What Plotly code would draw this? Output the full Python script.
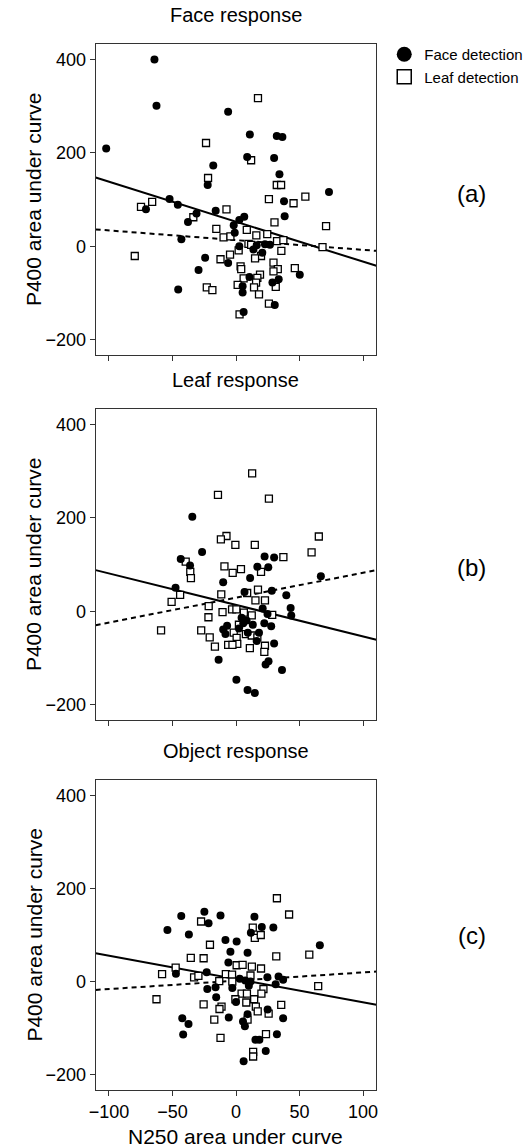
import plotly.graph_objects as go

# ---------------- data ----------------
# Panel (a) Face response
a_face_x = [-64.2, -62.6, -102.2, -6.2, 10.9, 32.1, 36.5, 8.8, 30.0, -17.9, 34.2, -22.3, 73.2, 37.8,
            -52.3, -45.8, -70.9, -16.0, -31.1, 38.3, -37.8, 6.5, 2.6, -1.8, -1.0, -43.0, 2.6, 16.3,
            22.8, 26.7, 13.7, 20.7, -24.3, -6.2, -29.5, 50.2, 10.6, 33.6, 28.7, -45.5, 5.2, 5.2,
            30.5, 6.0]
a_face_y = [400, 301, 209, 288, 239, 236, 234, 191, 189, 173, 154, 131, 116, 96,
            101, 89, 79, 76, 70, 64, 52, 63, 56, 45, 29, 15, 0, 2,
            4, 3, -7, -14, -25, -36, -51, -61, -66, -71, -78, -93, -86, -99,
            -126, -141]
a_leaf_x = [17.3, -23.6, 11.9, -22.0, 32.1, 35.5, 54.6, 25.9, 45.3, -74.8, -66.0, -7.5, -33.6, 30.3,
            70.9, -15.5, 8.5, 16.0, 24.6, -9.8, -4.4, 32.3, 37.3, 9.8, 11.9, 68.1, 35.7, 2.1,
            -79.7, -4.7, -12.2, 19.7, 15.0, 29.5, 3.6, 4.1, 32.9, 29.5, 46.3, 18.9, 6.0, 16.8,
            15.8, 1.3, 14.2, -23.0, -18.6, 31.3, 18.1, 25.9, 2.8]
a_leaf_y = [317, 221, 184, 146, 131, 131, 106, 101, 92, 84, 95, 79, 62, 51,
            43, 37, 35, 23, 26, 19, 21, 11, 13, 5, 3, -2, -10, -9,
            -21, -18, -28, -21, -26, -35, -43, -49, -49, -54, -47, -61, -69, -68,
            -78, -83, -88, -88, -94, -87, -103, -123, -146]

# Panel (b) Leaf response
b_face_x = [-34.4, -26.7, -43.5, -36.2, 22.5, 30.0, 16.8, 25.4, 11.1, -10.1, 66.8, -47.6, 6.7, 28.2,
            39.6, 21.0, 43.0, 43.5, 24.8, 4.4, 8.3, -7.0, 13.2, 22.3, 27.7, 2.3, -10.1, -8.3,
            9.3, 18.1, 16.3, 30.0, -13.7, 25.6, 23.3, 36.2, 0.3, 9.1, 14.8, 5.7]
b_face_y = [202, 127, 112, 98, 117, 115, 95, 94, 71, 62, 75, 50, 41, 44,
            34, 6, 7, -9, -6, -14, -20, -31, -29, -26, -32, -37, -39, -49,
            -46, -46, -64, -69, -104, -107, -114, -126, -147, -169, -175, -26]
b_leaf_x = [12.7, -14.2, 25.9, -7.5, -11.9, 65.2, -0.5, 14.8, 59.5, 37.3, -39.6, -9.1, 3.9, -36.0,
            -35.5, -2.6, 19.7, 17.3, 8.8, -11.6, -44.0, -50.7, 15.3, 22.8, -21.5, -3.1, 0.3, -10.6,
            6.2, 12.4, 28.5, -21.7, 2.3, -59.0, -27.4, -1.8, 7.8, 12.4, 16.8, -20.7, 0.5, 1.0,
            -6.2, -2.8, -16.6, 10.9, 22.8, 22.3]
b_leaf_y = [295, 249, 241, 161, 154, 160, 142, 142, 126, 116, 106, 96, 90, 84,
            71, 82, 84, 46, 39, 36, 35, 20, 23, 23, 11, 4, 4, -2,
            -3, -9, -8, -13, -29, -41, -41, -46, -49, -52, -56, -56, -57, -70,
            -72, -72, -76, -79, -74, -87]

# Panel (c) Object response
c_face_x = [-24.9, -43.1, -12.2, -21.6, 14.5, -54.0, 29.4, 20.3, 11.7, -37.1, -8.3, 0.5, 66.0, -4.4,
            9.1, -6.0, -47.3, -23.1, 24.7, 33.5, 37.1, 2.9, 7.3, 11.4, 10.1, -16.1, -2.9, -22.6,
            31.2, -15.6, 0.0, -42.3, -37.4, -5.7, 9.1, 24.9, 37.1, 5.5, 7.0, -41.6, 32.2, 15.3,
            18.4, 23.4, 6.0]
c_face_y = [150, 141, 142, 125, 139, 111, 116, 117, 105, 101, 89, 86, 78, 64,
            62, 41, 17, 20, 9, 11, 4, 6, 2, 0, -9, -12, -14, -16,
            -6, -34, -44, -79, -91, -77, -70, -60, -79, -86, -96, -114, -113, -125,
            -125, -149, -171]
c_leaf_x = [32.2, 41.8, -27.5, 13.2, 14.8, 19.5, -20.5, -35.6, -25.5, 31.7, 57.7, 0.5, 5.2, 12.5,
            19.7, -47.5, -58.2, -33.0, -29.6, -8.0, -3.1, -13.2, -2.9, 11.4, 64.7, 21.6, 4.4, 8.6,
            20.0, -62.6, -0.5, 14.3, 8.1, -25.5, -11.4, -13.0, 35.6, 15.6, 17.1, 25.7, -17.1, 9.1,
            23.6, -12.2, 13.5, 13.5]
c_leaf_y = [179, 144, 129, 116, 94, 100, 79, 51, 50, 54, 58, 35, 36, 32,
            28, 30, 16, 9, 12, 16, 15, 1, 0, 13, -10, -16, -26, -26,
            -26, -38, -38, -38, -45, -49, -54, -59, -50, -54, -64, -69, -82, -82,
            -113, -121, -151, -161]

# Regression lines (end points read at the plot edges)
line_x = [-110.5, 110.5]
a_face_line = [147, -42]
a_leaf_line = [36, -10]
b_face_line = [88, -61]
b_leaf_line = [-30, 88]
c_face_line = [61, -50]
c_leaf_line = [-18, 21.5]

panel_titles = ["Face response", "Leaf response", "Object response"]
panel_tags = ["(a)", "(b)", "(c)"]
x_ticks = [-100, -50, 0, 50, 100]
y_ticks = [-200, 0, 200, 400]
legend_names = ["Face detection", "Leaf detection"]

# ---------------- figure ----------------
W, H = 532, 1148
FONT = "Liberation Sans, Arial, Helvetica, sans-serif"

def fy(px):
    return 1 - px / H

panels = [
    (a_face_x, a_face_y, a_leaf_x, a_leaf_y, a_face_line, a_leaf_line, 44, 355),
    (b_face_x, b_face_y, b_leaf_x, b_leaf_y, b_face_line, b_leaf_line, 409, 720),
    (c_face_x, c_face_y, c_leaf_x, c_leaf_y, c_face_line, c_leaf_line, 780, 1090),
]
x_dom = [90 / W, 375 / W]

fig = go.Figure()
layout = dict(
    width=W, height=H,
    margin=dict(l=0, r=0, t=0, b=0),
    paper_bgcolor="white", plot_bgcolor="white",
    font=dict(family=FONT, size=18, color="black"),
    showlegend=True,
    legend=dict(x=383 / W, y=fy(38), xanchor="left", yanchor="top",
                font=dict(family=FONT, size=15, color="black"),
                bgcolor="rgba(0,0,0,0)", itemwidth=30, tracegroupgap=0),
    annotations=[],
)

for i, (fx, fyv, lx, ly, fl, ll, top, bot) in enumerate(panels):
    n = "" if i == 0 else str(i + 1)
    xa, ya = "x" + n, "y" + n
    layout["xaxis" + n] = dict(
        domain=x_dom, anchor=ya, range=[-110.5, 110.5],
        tickvals=x_ticks, ticktext=["\u2212100", "\u221250", "0", "50", "100"],
        showticklabels=(i == 2),
        ticks="outside", ticklen=5, tickwidth=1, tickcolor="#333",
        showline=True, linecolor="#333", linewidth=1, mirror=True,
        showgrid=False, zeroline=False,
        tickfont=dict(family=FONT, size=18),
    )
    layout["yaxis" + n] = dict(
        domain=[fy(bot), fy(top)], anchor=xa, range=[-233, 433],
        tickvals=y_ticks, ticktext=["\u2212200", "0", "200", "400"],
        ticks="outside", ticklen=5, tickwidth=1, tickcolor="#333",
        showline=True, linecolor="#333", linewidth=1, mirror=True,
        showgrid=False, zeroline=False,
        tickfont=dict(family=FONT, size=18),
    )
    fig.add_trace(go.Scatter(x=line_x, y=fl, mode="lines", xaxis=xa, yaxis=ya,
                             line=dict(color="black", width=2), showlegend=False,
                             hoverinfo="skip"))
    fig.add_trace(go.Scatter(x=line_x, y=ll, mode="lines", xaxis=xa, yaxis=ya,
                             line=dict(color="black", width=2, dash="5px,4px"),
                             showlegend=False, hoverinfo="skip"))
    fig.add_trace(go.Scatter(x=lx, y=ly, mode="markers", xaxis=xa, yaxis=ya,
                             marker=dict(symbol="square", size=7, color="white",
                                         line=dict(color="black", width=1.3)),
                             showlegend=False))
    fig.add_trace(go.Scatter(x=fx, y=fyv, mode="markers", xaxis=xa, yaxis=ya,
                             marker=dict(symbol="circle", size=8, color="black",
                                         line=dict(width=0)),
                             showlegend=False))
    # panel title
    layout["annotations"].append(dict(
        text=panel_titles[i], xref="paper", yref="paper",
        x=232 / W, y=fy(top - 29), xanchor="center", yanchor="middle",
        showarrow=False, font=dict(family=FONT, size=20, color="black")))
    # y-axis title
    layout["annotations"].append(dict(
        text="P400 area under curve", xref="paper", yref="paper",
        x=27 / W, y=fy((top + bot) / 2), xanchor="center", yanchor="middle",
        textangle=-90, showarrow=False, font=dict(family=FONT, size=21, color="black")))
    # panel tag
    layout["annotations"].append(dict(
        text=panel_tags[i], xref="paper", yref="paper",
        x=472 / W, y=fy([193, 568, 935][i]), xanchor="center", yanchor="middle",
        showarrow=False, font=dict(family=FONT, size=24, color="black")))

layout["annotations"].append(dict(
    text="N250 area under curve", xref="paper", yref="paper",
    x=232 / W, y=fy(1136), xanchor="center", yanchor="middle",
    showarrow=False, font=dict(family=FONT, size=21, color="black")))

# legend entries
fig.add_trace(go.Scatter(x=[None], y=[None], mode="markers", name=legend_names[0],
                         marker=dict(symbol="circle", size=15, color="black")))
fig.add_trace(go.Scatter(x=[None], y=[None], mode="markers", name=legend_names[1],
                         marker=dict(symbol="square", size=14, color="white",
                                     line=dict(color="black", width=1.5))))

fig.update_layout(**layout)
fig.write_html("out.html")
